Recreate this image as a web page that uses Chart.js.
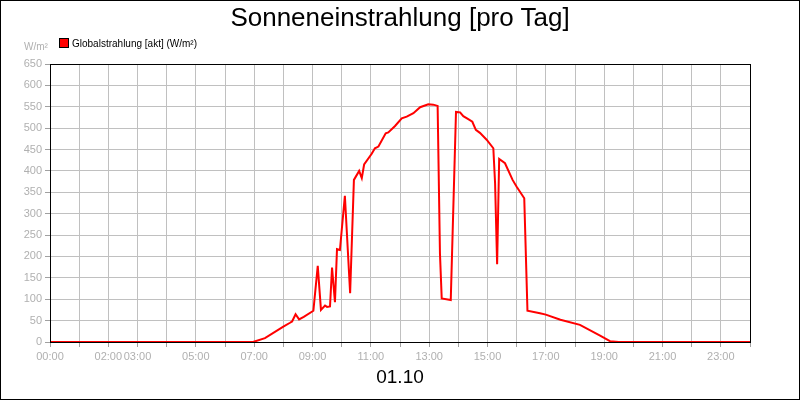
<!DOCTYPE html>
<html><head><meta charset="utf-8">
<script src="https://cdn.jsdelivr.net/npm/chart.js@4"></script>
<style>
body{margin:0;background:#fff;font-family:"Liberation Sans",Arial,sans-serif}
#wrap{position:relative;width:800px;height:400px}
canvas{position:absolute;left:0;top:0}
.t{position:absolute;white-space:nowrap}
</style></head><body>
<div id="wrap">
<canvas id="c" width="800" height="400"></canvas>
<div class="t" style="left:0;width:800px;top:2px;text-align:center;font-size:26px;color:#000">Sonneneinstrahlung [pro Tag]</div>
<div class="t" style="left:24px;top:41px;font-size:10px;color:#b0b0b0">W/m²</div>
<div class="t" style="left:59px;top:38px;font-size:10px;color:#000"><span style="display:inline-block;width:8px;height:8px;background:#f00;border:1px solid #000;vertical-align:-1px;margin-right:3px"></span>Globalstrahlung [akt] (W/m²)</div>
<div class="t" style="left:0;width:800px;top:366px;text-align:center;font-size:19px;color:#000">01.10</div>
</div>
<script>
const hours=[0,6.96,7.37,8.0,8.23,8.3,8.42,8.54,8.7,9.03,9.18,9.29,9.43,9.5,9.6,9.67,9.77,9.84,9.94,10.11,10.29,10.42,10.6,10.69,10.77,11.03,11.14,11.26,11.51,11.6,11.83,12.06,12.23,12.46,12.69,12.97,13.14,13.29,13.37,13.43,13.74,13.92,14.06,14.17,14.34,14.48,14.6,14.74,14.97,15.2,15.26,15.33,15.4,15.6,15.86,16.0,16.26,16.37,16.8,17.0,17.5,18.17,18.86,19.2,19.5,24];
const values=[0,0,9,36,45,48,65,53,59,73,178,75,85,82,83,174,93,217,215,342,114,379,400,383,415,440,453,457,488,490,505,523,527,535,549,556,555,552,207,102,98,538,537,528,521,515,496,489,473,453,371,182,428,418,379,363,336,73,67,64,52,40,15,2,0,0];
const xLabels={0:"00:00",2:"02:00",3:"03:00",5:"05:00",7:"07:00",9:"09:00",11:"11:00",13:"13:00",15:"15:00",17:"17:00",19:"19:00",21:"21:00",23:"23:00"};
const frame={id:'frame',afterDraw(ch){const c=ch.ctx,a=ch.chartArea;c.save();c.strokeStyle='#000';c.lineWidth=1;
c.strokeRect(Math.round(a.left)+0.5,Math.round(a.top)+0.5,Math.round(a.right-a.left),Math.round(a.bottom-a.top));
c.strokeRect(0.5,0.5,799,399);c.restore();}};
new Chart(document.getElementById('c'),{type:'line',
data:{datasets:[{data:hours.map((h,i)=>({x:h,y:values[i]})),borderColor:'#ff0000',borderWidth:2,pointRadius:0,tension:0}]},
options:{responsive:false,animation:false,
layout:{padding:{top:64,right:50,bottom:36,left:0}},
plugins:{legend:{display:false},tooltip:{enabled:false}},
scales:{
x:{type:'linear',min:0,max:24,afterFit(s){s.height=22;},
ticks:{stepSize:1,autoSkip:false,maxRotation:0,color:'#b0b0b0',font:{size:11,family:'Liberation Sans'},callback:v=>xLabels[v]||''},
grid:{color:'#c0c0c0',tickLength:5,tickColor:'#a0a0a0'},border:{color:'#000'}},
y:{min:0,max:650,afterFit(s){s.width=50;},
ticks:{stepSize:50,color:'#b0b0b0',font:{size:11,family:'Liberation Sans'}},
grid:{color:'#c0c0c0',tickLength:5,tickColor:'#a0a0a0'},border:{color:'#000'}}}},
plugins:[frame]});
</script></body></html>
